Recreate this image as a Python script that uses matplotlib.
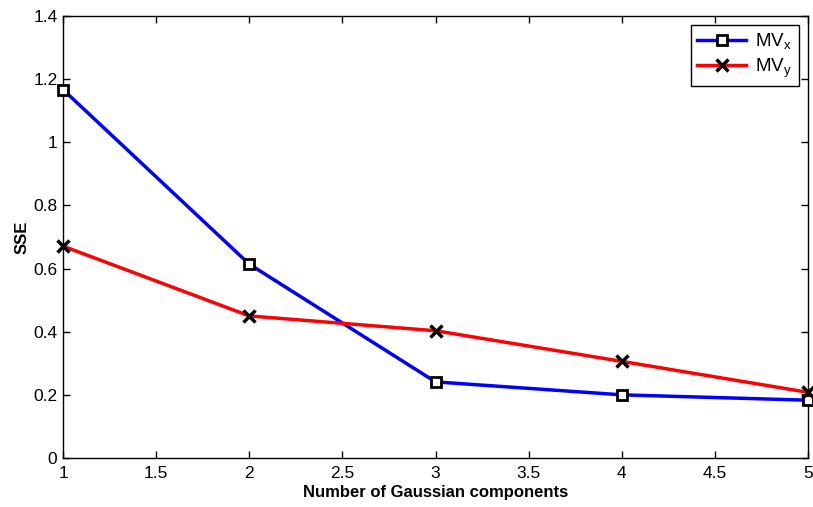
import matplotlib
matplotlib.use("Agg")
import matplotlib.pyplot as plt

plt.rcParams['font.family'] = ['Liberation Sans', 'DejaVu Sans']
plt.rcParams['mathtext.fontset'] = 'custom'
plt.rcParams['mathtext.rm'] = 'Liberation Sans'

components = [1, 2, 3, 4, 5]
mvx = [1.167, 0.614, 0.241, 0.200, 0.183]
mvy = [0.671, 0.450, 0.403, 0.306, 0.208]

fig = plt.figure(figsize=(8.13, 5.07), dpi=100)
ax = fig.add_axes([0.0775, 0.0967, 0.9164, 0.8717])

ax.plot(components, mvx, color='#0000ff', lw=2.5, marker='s', ms=7,
        mfc='white', mec='black', mew=2, label=r'MV$_\mathregular{x}$', clip_on=False, zorder=3)
ax.plot(components, mvy, color='#ff0000', lw=2.5, marker='x', ms=9,
        mec='black', mew=2.5, label=r'MV$_\mathregular{y}$', clip_on=False, zorder=3)

ax.set_xlim(1, 5)
ax.set_ylim(0, 1.4)
ax.set_xticks([1, 1.5, 2, 2.5, 3, 3.5, 4, 4.5, 5])
ax.set_xticklabels(['1', '1.5', '2', '2.5', '3', '3.5', '4', '4.5', '5'])
ax.set_yticks([0, 0.2, 0.4, 0.6, 0.8, 1, 1.2, 1.4])
ax.set_yticklabels(['0', '0.2', '0.4', '0.6', '0.8', '1', '1.2', '1.4'])
ax.tick_params(direction='in', length=5, width=1, labelsize=12.5, top=True, right=True)
ax.tick_params(axis='x', pad=6)
ax.tick_params(axis='y', pad=4)
for s in ax.spines.values():
    s.set_linewidth(1)

ax.set_xlabel('Number of Gaussian components', fontsize=12, fontweight='bold', labelpad=3)
ax.set_ylabel('SSE', fontsize=12, fontweight='bold', labelpad=3)

leg = ax.legend(loc='upper right', fontsize=13.5, fancybox=False, edgecolor='black',
                framealpha=1, handlelength=2.6, handletextpad=0.5, borderaxespad=0.5,
                labelspacing=0.2, borderpad=0.35)
leg.get_frame().set_linewidth(1)

fig.savefig('out.png', dpi=100)
